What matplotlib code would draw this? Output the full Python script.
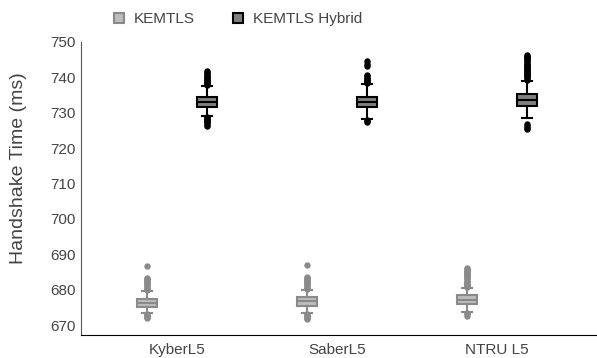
import matplotlib
matplotlib.use("Agg")
import matplotlib.pyplot as plt
from matplotlib.lines import Line2D

plt.rcParams['font.family'] = ['Liberation Sans', 'DejaVu Sans']

categories = ["KyberL5", "SaberL5", "NTRU L5"]
series = ["KEMTLS", "KEMTLS Hybrid"]

# Five-number summaries per category: (whislo, q1, med, q3, whishi)
kemtls_summary = [
    (673.4, 675.0, 676.3, 677.4, 679.7),
    (673.4, 675.5, 676.7, 677.9, 680.0),
    (673.6, 676.0, 677.2, 678.5, 680.5),
]
hybrid_summary = [
    (729.1, 731.7, 733.1, 734.4, 737.5),
    (728.3, 731.5, 733.1, 734.5, 738.1),
    (728.5, 731.8, 733.5, 735.2, 739.1),
]

# Outlying handshakes per category
kemtls_fliers = [
    [680.0, 680.3, 680.6, 680.9, 681.2, 681.5, 681.8, 682.1, 682.4, 682.7,
     683.0, 683.3, 686.7, 673.1, 672.8, 672.5, 672.2, 671.9],
    [680.3, 680.6, 680.9, 681.2, 681.5, 681.8, 682.1, 682.4, 682.7, 683.0,
     683.3, 683.6, 687.1, 673.1, 672.8, 672.5, 672.2, 671.9, 671.6],
    [680.8, 681.1, 681.4, 681.7, 682.0, 682.3, 682.6, 682.9, 683.2, 683.5,
     683.8, 684.1, 684.4, 684.7, 685.0, 685.3, 685.6, 685.9, 686.1,
     673.3, 673.0, 672.6],
]
hybrid_fliers = [
    [737.8, 738.1, 738.4, 738.7, 739.0, 739.3, 739.6, 739.9, 740.2, 740.5,
     740.8, 741.1, 741.4, 741.8, 728.8, 728.5, 728.2, 727.9, 727.6, 727.3,
     727.0, 726.6, 726.3],
    [738.4, 738.7, 739.0, 739.3, 739.6, 739.9, 740.3, 740.8, 743.1, 743.8,
     744.5, 728.0, 727.6, 727.3],
    [739.4, 739.7, 740.0, 740.3, 740.6, 740.9, 741.2, 741.5, 741.8, 742.1,
     742.4, 742.7, 743.0, 743.3, 743.6, 743.9, 744.2, 744.5, 744.8, 745.1,
     745.4, 745.7, 746.0, 746.3, 726.8, 726.3, 725.8, 725.5],
]

yticks = [670, 680, 690, 700, 710, 720, 730, 740, 750]


def make_stats(summary, fliers):
    out = []
    for (lo, q1, med, q3, hi), fl in zip(summary, fliers):
        out.append(dict(whislo=lo, q1=q1, med=med, q3=q3, whishi=hi, fliers=fl))
    return out


styles = {
    "KEMTLS": dict(face="#bdbdbd", edge="#8a8a8a"),
    "KEMTLS Hybrid": dict(face="#808080", edge="#000000"),
}

fig = plt.figure(figsize=(5.97, 3.58), dpi=100)
ax = fig.add_axes([0.1357, 0.0642, 0.8643, 0.8185])

offset = 0.1875
width = 0.125
groups = [(series[0], kemtls_summary, kemtls_fliers, -offset),
          (series[1], hybrid_summary, hybrid_fliers, offset)]

for name, summ, fl, off in groups:
    st = styles[name]
    positions = [i + off for i in range(len(categories))]
    ax.bxp(
        make_stats(summ, fl), positions=positions, widths=width,
        patch_artist=True, showfliers=True,
        boxprops=dict(facecolor=st["face"], edgecolor=st["edge"], linewidth=1.5),
        medianprops=dict(color=st["edge"], linewidth=1.5),
        whiskerprops=dict(color=st["edge"], linewidth=1.5),
        capprops=dict(color=st["edge"], linewidth=1.5),
        capwidths=width * 0.5,
        flierprops=dict(marker="o", markersize=3.6, markerfacecolor=st["edge"],
                        markeredgecolor=st["edge"], linestyle="none"),
        manage_ticks=False,
    )

ax.set_xlim(-0.6, 2.625)
ax.set_ylim(667.2, 750)
ax.set_xticks(range(len(categories)))
ax.set_xticklabels(categories)
ax.set_yticks(yticks)
ax.tick_params(axis="both", length=0, labelsize=11, labelcolor="#444444")
ax.tick_params(axis="x", pad=6)
ax.tick_params(axis="y", pad=4)
ax.set_ylabel("Handshake Time (ms)", fontsize=14, color="#444444")
ax.yaxis.set_label_coords(-0.105, 0.57)

for side in ("top", "right"):
    ax.spines[side].set_visible(False)
ax.spines["left"].set_color("#555555")
ax.spines["bottom"].set_color("#000000")

handles = [
    Line2D([], [], marker="s", linestyle="none", markersize=7.5,
           markerfacecolor=styles[s]["face"], markeredgecolor=styles[s]["edge"],
           markeredgewidth=1.5, label=s)
    for s in series
]
fig.legend(handles=handles, loc="center left", bbox_to_anchor=(0.163, 0.946),
           ncol=2, frameon=False, fontsize=11, handlelength=1.0,
           handletextpad=0.5, columnspacing=2.3, labelcolor="#444444")

fig.savefig("out.png", dpi=100)
